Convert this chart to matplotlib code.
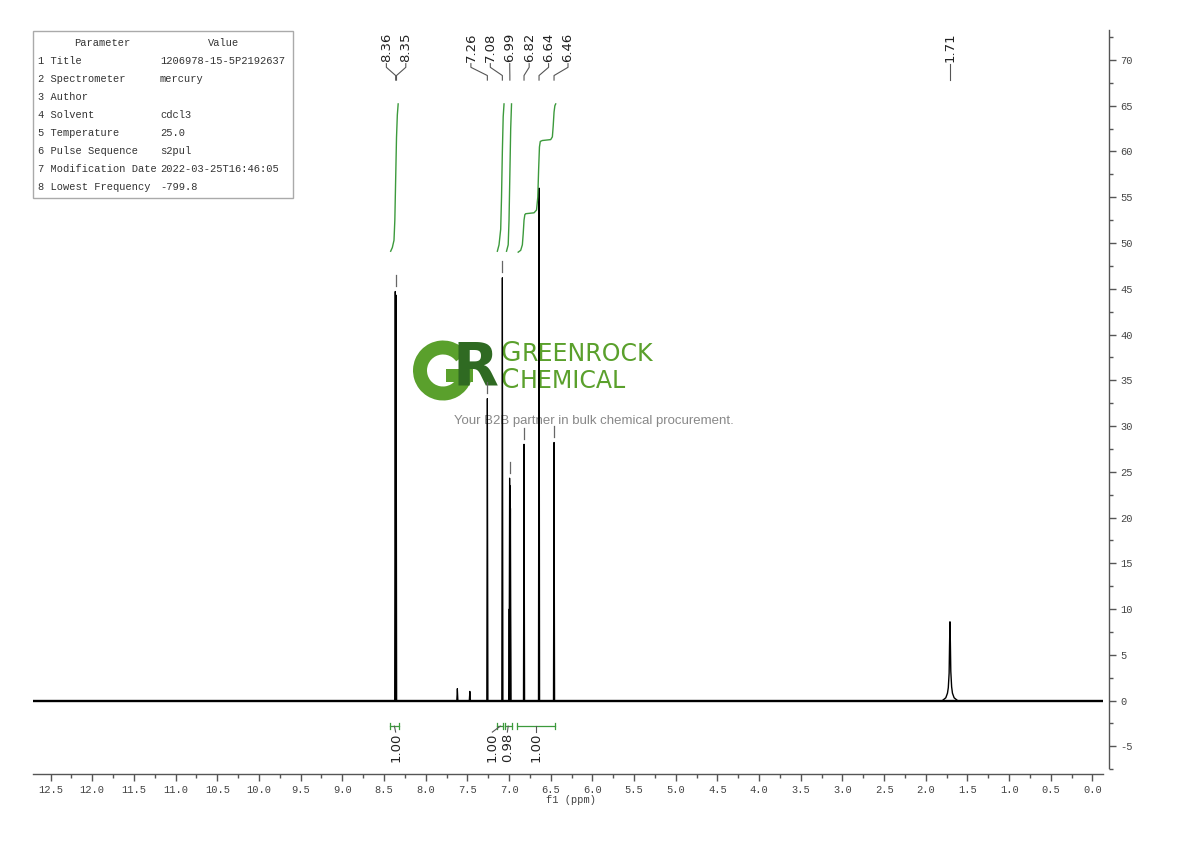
import matplotlib
matplotlib.use("Agg")
import matplotlib.pyplot as plt
from matplotlib.patches import Rectangle, Wedge
from matplotlib.transforms import IdentityTransform
from matplotlib.ticker import MultipleLocator, FormatStrFormatter

# sharp lines of the 1H spectrum: shift (ppm) and intensity
line_ppm = [8.365, 8.355, 7.62, 7.47, 7.26, 7.08, 6.998, 6.993, 6.988, 6.983, 6.82, 6.64, 6.46]
line_int = [44.7, 44.3, 1.3, 1.0, 33.0, 46.2, 10.0, 24.3, 23.5, 21.0, 28.0, 56.0, 28.2]

# broad peak near 1.71 ppm
water_ppm = [1.80, 1.76, 1.74, 1.73, 1.72, 1.715, 1.71, 1.705, 1.70, 1.69, 1.68, 1.66, 1.62]
water_int = [0, 0.3, 0.8, 1.4, 3.0, 6.0, 8.6, 6.2, 3.2, 1.5, 0.8, 0.3, 0]

# short marks drawn just above some peak tops
mark_ppm = [8.36, 7.26, 7.08, 6.99, 6.82, 6.46]
mark_int = [44.7, 33.0, 46.2, 24.3, 28.0, 28.2]

# peak picking labels
pick_ppm = [8.36, 8.35, 7.26, 7.08, 6.99, 6.82, 6.64, 6.46, 1.71]
pick_group = [0, 0, 1, 1, 1, 1, 1, 1, 2]

# integration regions
integ_lo = [8.43, 7.14, 7.05, 6.90]
integ_hi = [8.32, 7.07, 6.97, 6.45]
integ_val = [1.00, 1.00, 0.98, 1.00]

# integral curves (ppm, curve height)
int1_ppm = [8.42, 8.40, 8.38, 8.37, 8.36, 8.35, 8.34, 8.33]
int1_val = [49.1, 49.5, 50.3, 52.5, 57.0, 61.5, 64.0, 65.2]
int2_ppm = [7.14, 7.12, 7.10, 7.09, 7.08, 7.07, 7.06]
int2_val = [49.1, 49.8, 51.5, 55.0, 60.0, 63.8, 65.2]
int3_ppm = [7.03, 7.01, 7.00, 6.99, 6.98, 6.97]
int3_val = [49.1, 49.8, 52.5, 57.5, 62.5, 65.2]
int4_ppm = [6.89, 6.86, 6.84, 6.83, 6.82, 6.81, 6.80, 6.70, 6.67, 6.655, 6.645, 6.635,
            6.625, 6.60, 6.50, 6.48, 6.47, 6.46, 6.45, 6.44]
int4_val = [49.0, 49.2, 49.8, 51.0, 52.5, 53.1, 53.2, 53.3, 53.6, 55.0, 58.0, 60.5,
            61.1, 61.2, 61.3, 61.6, 62.8, 64.3, 65.0, 65.2]

params = ["Title", "Spectrometer", "Author", "Solvent", "Temperature",
          "Pulse Sequence", "Modification Date", "Lowest Frequency"]
values = ["1206978-15-5P2192637", "mercury", "", "cdcl3", "25.0",
          "s2pul", "2022-03-25T16:46:05", "-799.8"]

W, H = 1190, 841
fig = plt.figure(figsize=(W / 100, H / 100), dpi=100)


def fx(x):
    return x / W


def fy(y):
    return 1 - y / H


ax = fig.add_axes([fx(33), fy(774), fx(1109) - fx(33), fy(29.7) - fy(774)])
ax.set_xlim(12.711, -0.198)
ax.set_ylim(-8.03, 73.31)

# spectrum
ax.plot([12.711, -0.126], [0, 0], color="black", lw=1.7, solid_capstyle="butt", zorder=2)
w = 0.007
for p, h in zip(line_ppm, line_int):
    ax.plot([p + w, p, p - w], [0, h, 0], color="black", lw=0.9, zorder=2)
ax.plot(water_ppm, water_int, color="black", lw=1.0, zorder=2)

for p, h in zip(mark_ppm, mark_int):
    ax.plot([p, p], [h + 0.6, h + 1.8], color="#666666", lw=0.9, zorder=2)

# integral curves
green = "#3c9a3c"
for xs, ys in [(int1_ppm, int1_val), (int2_ppm, int2_val),
               (int3_ppm, int3_val), (int4_ppm, int4_val)]:
    ax.plot(xs, ys, color=green, lw=1.0, zorder=2)

# peak labels at the top
groups = {}
for p, g in zip(pick_ppm, pick_group):
    groups.setdefault(g, []).append(p)
spacing = 0.233
for g, ps in groups.items():
    centre = sum(ps) / len(ps)
    n = len(ps)
    for i, p in enumerate(ps):
        lx = centre + ((n - 1) / 2 - i) * spacing
        ax.text(lx, 69.8, "%.2f" % p, rotation=90, ha="center", va="bottom",
                fontsize=9.5, color="#222222", family="DejaVu Sans", clip_on=False)
        ax.plot([lx, lx, p, p], [69.6, 69.2, 68.3, 67.8], color="#555555",
                lw=0.8, clip_on=False)

# integration brackets and values
label_x = [8.36, 7.20, 7.02, 6.675]
for lo, hi, v, lx in zip(integ_lo, integ_hi, integ_val, label_x):
    ax.plot([lo, hi], [-2.8, -2.8], color=green, lw=0.9)
    ax.plot([lo, lo], [-2.45, -3.15], color=green, lw=0.9)
    ax.plot([hi, hi], [-2.45, -3.15], color=green, lw=0.9)
    c = (lo + hi) / 2
    ax.plot([c, lx], [-2.8, -3.45], color="#555555", lw=0.8)
    ax.text(lx, -3.5, "%.2f" % v, rotation=90, ha="center", va="top",
            fontsize=9.5, color="#222222", family="DejaVu Sans")

# axes styling
for s in ["left", "top"]:
    ax.spines[s].set_visible(False)
ax.spines["right"].set_bounds(-7.4, 73.3)
ax.spines["bottom"].set_bounds(12.711, -0.126)
for s in ["right", "bottom"]:
    ax.spines[s].set_color("#555555")
    ax.spines[s].set_linewidth(1.0)
ax.yaxis.tick_right()
ax.xaxis.set_major_locator(MultipleLocator(0.5))
ax.xaxis.set_minor_locator(MultipleLocator(0.25))
ax.yaxis.set_major_locator(MultipleLocator(5))
ax.yaxis.set_minor_locator(MultipleLocator(2.5))
ax.xaxis.set_major_formatter(FormatStrFormatter("%.1f"))
ax.yaxis.set_major_formatter(FormatStrFormatter("%d"))
ax.tick_params(axis="both", which="major", length=5, width=1, color="#555555",
               labelsize=7.5, labelcolor="#444444", pad=3)
ax.tick_params(axis="both", which="minor", length=3, width=1, color="#555555")
ax.set_yticks([t for t in range(-5, 71, 5)])
ax.set_xticks([x * 0.5 for x in range(0, 26)])
for lab in ax.get_xticklabels() + ax.get_yticklabels():
    lab.set_family("Liberation Mono")
ax.set_xlabel("f1 (ppm)", family="Liberation Mono", fontsize=7.5, color="#444444", labelpad=0)

# parameter table
fig.add_artist(Rectangle((fx(33), fy(198)), fx(293) - fx(33), fy(31) - fy(198),
                         transform=fig.transFigure, fill=False, ec="#aaaaaa", lw=1))
tbl = dict(family="Liberation Mono", fontsize=7.5, color="#333333", va="center")
fig.text(fx(102), fy(43), "Parameter", ha="center", **tbl)
fig.text(fx(224), fy(43), "Value", ha="center", **tbl)
for i, (p, v) in enumerate(zip(params, values)):
    y = 61 + 18 * i
    fig.text(fx(38), fy(y), "%d %s" % (i + 1, p), ha="left", **tbl)
    fig.text(fx(160), fy(y), v, ha="left", **tbl)

# watermark logo (under the spectrum lines)
light = "#5aa02c"
dark = "#2f6a22"
px = IdentityTransform()
ring = Wedge((443, H - 370.5), 30, 35, 360, width=14, transform=px,
             facecolor=light, edgecolor="none", zorder=0.5)
bar = Rectangle((446, H - 382), 27, 13, transform=px,
                facecolor=light, edgecolor="none", zorder=0.5)
ax.add_artist(ring)
ax.add_artist(bar)

tf = fig.transFigure
ax.text(fx(452), fy(386), "R", ha="left", va="baseline", fontsize=43, fontweight="bold",
        color=dark, family="DejaVu Sans", transform=tf, zorder=0.6)
ax.text(fx(500), fy(361), "G", ha="left", va="baseline", fontsize=19,
        color=light, family="DejaVu Sans", transform=tf, zorder=0.5)
ax.text(fx(522), fy(361), "REENROCK", ha="left", va="baseline", fontsize=17,
        color=light, family="DejaVu Sans", transform=tf, zorder=0.5)
ax.text(fx(500), fy(387.5), "C", ha="left", va="baseline", fontsize=19,
        color=light, family="DejaVu Sans", transform=tf, zorder=0.5)
ax.text(fx(520), fy(387.5), "HEMICAL", ha="left", va="baseline", fontsize=17,
        color=light, family="DejaVu Sans", transform=tf, zorder=0.5)
ax.text(fx(594), fy(421), "Your B2B partner in bulk chemical procurement.",
        ha="center", va="center", fontsize=9.5, color="#888888",
        family="Liberation Sans", transform=tf, zorder=0.5)

fig.savefig("out.png", dpi=100)
